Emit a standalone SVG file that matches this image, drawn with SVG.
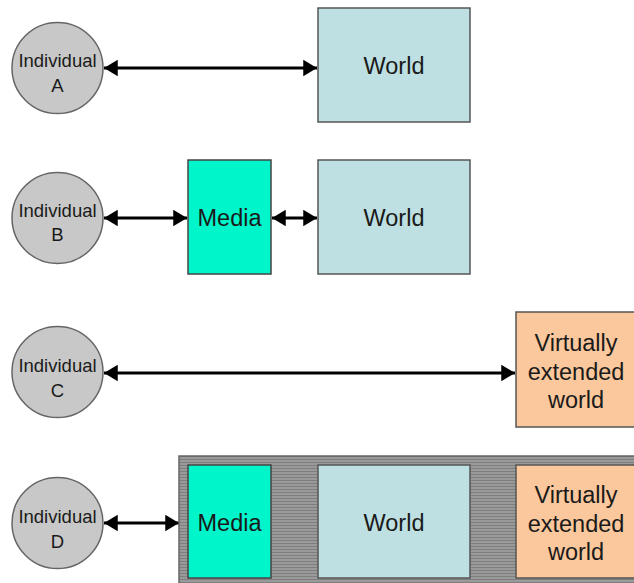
<svg xmlns="http://www.w3.org/2000/svg" width="634" height="583" viewBox="0 0 634 583">
<style>
.ind{fill:#c8c8c8;stroke:#666;stroke-width:1.5}
.world{fill:#bee0e3;stroke:#555;stroke-width:1.5}
.media{fill:#00f5ca;stroke:#444;stroke-width:1.5}
.virt{fill:#fac89c;stroke:#555;stroke-width:1.5}
.t{font-family:"Liberation Sans",Arial,sans-serif;fill:#1a1a1a;text-anchor:middle}
.s{font-size:18.5px}
.l{font-size:23.5px}
.c{stroke:#000;stroke-width:3;fill:none;marker-start:url(#ah);marker-end:url(#ah)}
</style>
<defs>
<marker id="ah" viewBox="0 0 10 12" refX="10" refY="6" markerWidth="4.6" markerHeight="5.5" orient="auto-start-reverse" markerUnits="strokeWidth">
<path d="M0,0 L10,6 L0,12 z" fill="#000"/>
</marker>
<pattern id="stripes" width="4" height="3" patternUnits="userSpaceOnUse">
<rect width="4" height="3" fill="#9a9a9a"/>
<rect width="4" height="1" fill="#7e7e7e"/>
</pattern>
</defs>
<rect width="634" height="583" fill="#fff"/>
<g id="connectors">
<line class="c" x1="104" y1="68" x2="317" y2="68"/>
<line class="c" x1="104" y1="218" x2="187" y2="218"/>
<line class="c" x1="272" y1="218" x2="317" y2="218"/>
<line class="c" x1="104" y1="373" x2="515" y2="373"/>
<line class="c" x1="104" y1="523" x2="179" y2="523"/>
</g>
<g id="indA"><circle class="ind" cx="57.5" cy="68" r="45.5"/><text class="t s" x="57.5" y="67">Individual</text><text class="t s" x="57.5" y="92">A</text></g>
<g id="worldA"><rect class="world" x="318" y="8" width="152" height="114"/><text class="t l" x="394" y="74">World</text></g>
<g id="indB"><circle class="ind" cx="57.5" cy="218" r="45.5"/><text class="t s" x="57.5" y="217">Individual</text><text class="t s" x="57.5" y="241">B</text></g>
<g id="mediaB"><rect class="media" x="188" y="160" width="83" height="114"/><text class="t l" x="229.5" y="226">Media</text></g>
<g id="worldB"><rect class="world" x="318" y="160" width="152" height="114"/><text class="t l" x="394" y="226">World</text></g>
<g id="indC"><circle class="ind" cx="57.5" cy="372" r="45.5"/><text class="t s" x="57.5" y="372">Individual</text><text class="t s" x="57.5" y="397">C</text></g>
<g id="virtC"><rect class="virt" x="516" y="312" width="120" height="115"/><text class="t l" x="576" y="351">Virtually</text><text class="t l" x="576" y="380">extended</text><text class="t l" x="576" y="408">world</text></g>
<g id="indD"><circle class="ind" cx="57.5" cy="523" r="45.5"/><text class="t s" x="57.5" y="523">Individual</text><text class="t s" x="57.5" y="548">D</text></g>
<g id="groupD">
<rect x="179" y="456" width="458" height="130" fill="url(#stripes)" stroke="#666" stroke-width="1.5"/>
<g id="mediaD"><rect class="media" x="188" y="465" width="83" height="113"/><text class="t l" x="229.5" y="531">Media</text></g>
<g id="worldD"><rect class="world" x="318" y="465" width="152" height="113"/><text class="t l" x="394" y="531">World</text></g>
<g id="virtD"><rect class="virt" x="516" y="465" width="120" height="113"/><text class="t l" x="576" y="503">Virtually</text><text class="t l" x="576" y="532">extended</text><text class="t l" x="576" y="560">world</text></g>
</g>
</svg>
